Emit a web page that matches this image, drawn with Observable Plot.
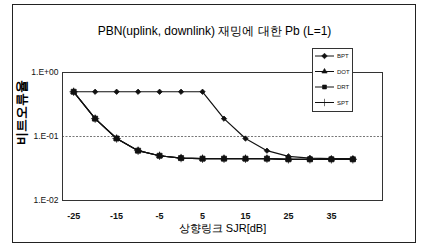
<!DOCTYPE html>
<html><head><meta charset="utf-8">
<script src="https://cdn.jsdelivr.net/npm/d3@7"></script>
<script src="https://cdn.jsdelivr.net/npm/@observablehq/plot@0.6"></script>
<style>
body{margin:0;background:#fff;}
#wrap{position:relative;width:421px;height:244px;overflow:hidden;font-family:"Liberation Sans",Arial,sans-serif;}
#border{position:absolute;left:12px;top:4px;width:402px;height:237px;border:1px solid #222;pointer-events:none;}
#legend{position:absolute;left:312px;top:48px;}
</style></head><body><div id="wrap"><div id="border"></div></div>
<script>
const sjr = [-25, -20, -15, -10, -5, 0, 5, 10, 15, 20, 25, 30, 35, 40];
const bpt = [0.5, 0.5, 0.5, 0.5, 0.5, 0.5, 0.5, 0.19, 0.093, 0.06, 0.049, 0.046, 0.045, 0.045];
const dot = [0.5, 0.19, 0.093, 0.06, 0.05, 0.046, 0.045, 0.045, 0.045, 0.045, 0.044, 0.044, 0.044, 0.044];
const drt = [0.5, 0.19, 0.093, 0.06, 0.05, 0.046, 0.045, 0.045, 0.045, 0.045, 0.044, 0.044, 0.044, 0.044];
const spt = [0.5, 0.19, 0.093, 0.06, 0.05, 0.046, 0.045, 0.045, 0.045, 0.045, 0.044, 0.044, 0.044, 0.044];
const seriesNames = ["BPT", "DOT", "DRT", "SPT"];
const seriesSymbols = ["diamond2", "triangle2", "square2", "plus"];
const seriesSizes = [2.4, 2.8, 3.2, 2.8];
const xTicks = [-25, -15, -5, 5, 15, 25, 35];
const yTicks = [1, 0.1, 0.01];
const yTickLabels = ["1.E+00", "1.E-01", "1.E-02"];
const title = "PBN(uplink, downlink) 재밍에 대한 Pb (L=1)";
const xLabel = "상향링크 SJR[dB]";
const yLabel = "비트오류율";

const valuesBy = [bpt, dot, drt, spt];
const rows = [];
valuesBy.forEach((vals, si) => vals.forEach((v, i) => rows.push({series: seriesNames[si], sym: seriesSymbols[si], r: seriesSizes[si], x: sjr[i], y: v})));

const chart = Plot.plot({
  width: 421, height: 244,
  marginLeft: 62, marginRight: 39, marginTop: 72, marginBottom: 44,
  style: {background: "transparent", fontFamily: "Liberation Sans, Arial, sans-serif", color: "#111"},
  x: {domain: [-27.6, 46.9]},
  y: {type: "log", domain: [0.01, 1]},
  r: {type: "identity"},
  marks: [
    Plot.ruleY([0.1], {stroke: "#777", strokeDasharray: "2,1.5", strokeWidth: 1}),
    Plot.frame({stroke: "#333", strokeWidth: 1}),
    Plot.axisX({ticks: xTicks, tickSize: 0, tickPadding: 12, fontSize: 9, fontWeight: "bold", tickFormat: (d) => String(d), label: null}),
    Plot.axisY({ticks: yTicks, tickSize: 0, tickPadding: 4, fontSize: 8.5, tickFormat: (d) => yTickLabels[yTicks.indexOf(d)], label: null}),
    Plot.line(rows, {x: "x", y: "y", z: "series", stroke: "#111", strokeWidth: 1.2}),
    Plot.dot(rows, {x: "x", y: "y", symbol: "sym", r: "r", fill: "#111", stroke: "#111", strokeWidth: 0.8}),
    Plot.text([title], {frameAnchor: "top", dx: -8, dy: -46, fontSize: 12, fill: "#000", letterSpacing: "-0.4px"}),
    Plot.text([xLabel], {frameAnchor: "bottom", dy: 31, fontSize: 11, fill: "#000", letterSpacing: "-0.5px"}),
    Plot.text([yLabel], {frameAnchor: "left", dx: -41, dy: 8, rotate: -90, fontSize: 13, fontWeight: "bold", fill: "#000", letterSpacing: "0.5px"})
  ]
});
chart.style.position = "absolute";
chart.style.left = "0px";
chart.style.top = "0px";
const wrap = document.getElementById("wrap");
wrap.appendChild(chart);

// legend
const symMap = {diamond2: d3.symbolDiamond2, triangle2: d3.symbolTriangle2, square2: d3.symbolSquare2, plus: d3.symbolPlus};
const lg = d3.create("svg").attr("id", "legend").attr("width", 42).attr("height", 65);
lg.append("rect").attr("x", 0.5).attr("y", 0.5).attr("width", 40).attr("height", 63).attr("fill", "#fff").attr("stroke", "#333");
seriesNames.forEach((n, i) => {
  const yy = 8 + i * 15.5;
  lg.append("line").attr("x1", 3).attr("x2", 22).attr("y1", yy).attr("y2", yy).attr("stroke", "#111").attr("stroke-width", 1);
  lg.append("path").attr("transform", `translate(12.5,${yy})`).attr("d", d3.symbol(symMap[seriesSymbols[i]], 20)()).attr("fill", "#111").attr("stroke", "#111").attr("stroke-width", 0.6);
  lg.append("text").attr("x", 25).attr("y", yy + 2).attr("font-size", 6).attr("font-family", "Liberation Sans, Arial, sans-serif").attr("fill", "#111").text(n);
});
wrap.appendChild(lg.node());
</script>
</body></html>
